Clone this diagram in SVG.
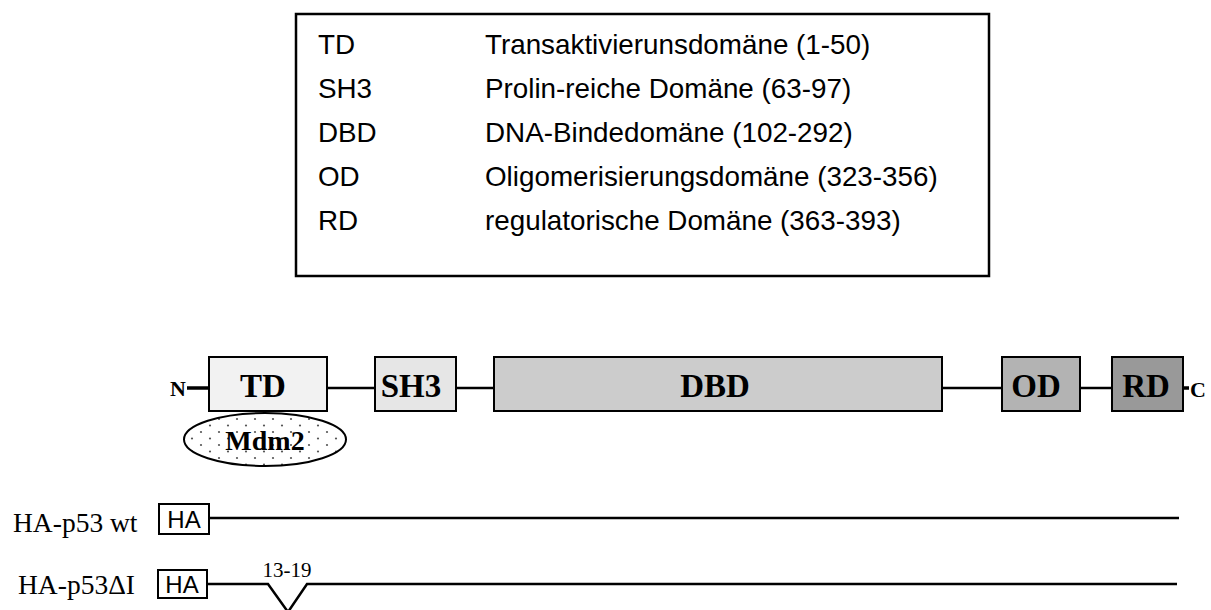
<svg xmlns="http://www.w3.org/2000/svg" width="1211" height="610" viewBox="0 0 1211 610">
<style>
.leg{font-family:"Liberation Sans",Arial,sans-serif;font-size:27.8px;fill:#000}
.dom{font-family:"Liberation Serif","Times New Roman",serif;font-weight:bold;font-size:33px;fill:#000;text-anchor:middle}
.term{font-family:"Liberation Serif","Times New Roman",serif;font-weight:bold;font-size:22px;fill:#000}
.lab{font-family:"Liberation Serif","Times New Roman",serif;font-size:27.5px;fill:#000}
.ha{font-family:"Liberation Sans",Arial,sans-serif;font-size:24px;fill:#000;text-anchor:middle}
.box{stroke:#000;stroke-width:2}
.ln{stroke:#000;stroke-width:2.5;fill:none}
</style>
<defs>
<pattern id="dots" width="18" height="13" patternUnits="userSpaceOnUse">
<rect width="18" height="13" fill="#fff"/>
<circle cx="3" cy="3" r="1.1" fill="#555"/>
<circle cx="12" cy="9.5" r="1.1" fill="#555"/>
</pattern>
</defs>
<rect width="1211" height="610" fill="#fff"/>
<g id="legend">
<rect x="296" y="14" width="693" height="262" fill="#fff" stroke="#000" stroke-width="2.5"/>
<text class="leg" x="318" y="54">TD</text><text class="leg" x="485" y="54">Transaktivierunsdomäne (1-50)</text>
<text class="leg" x="318" y="98">SH3</text><text class="leg" x="485" y="98">Prolin-reiche Domäne (63-97)</text>
<text class="leg" x="318" y="142">DBD</text><text class="leg" x="485" y="142">DNA-Bindedomäne (102-292)</text>
<text class="leg" x="318" y="186">OD</text><text class="leg" x="485" y="186">Oligomerisierungsdomäne (323-356)</text>
<text class="leg" x="318" y="230">RD</text><text class="leg" x="485" y="230">regulatorische Domäne (363-393)</text>
</g>
<g id="connectors">
<line x1="187" y1="388" x2="209" y2="388" stroke="#000" stroke-width="3.5"/>
<line class="ln" x1="327" y1="388" x2="375" y2="388"/>
<line class="ln" x1="456" y1="388" x2="494" y2="388"/>
<line class="ln" x1="942" y1="388" x2="1002" y2="388"/>
<line class="ln" x1="1080" y1="388" x2="1112" y2="388"/>
<line x1="1183" y1="388" x2="1189" y2="388" stroke="#000" stroke-width="3.5"/>
<line class="ln" x1="209" y1="518" x2="1179" y2="518"/>
<polyline class="ln" points="207,584 268,584 288,612 307,584 1177,584"/>
</g>
<g id="N"><text class="term" x="170" y="396">N</text></g>
<g id="C"><text class="term" x="1190" y="397">C</text></g>
<g id="TD"><rect class="box" x="209" y="357" width="118" height="54" fill="#f2f2f2"/><text class="dom" x="263" y="397">TD</text></g>
<g id="SH3"><rect class="box" x="375" y="357" width="81" height="54" fill="#e6e6e6"/><text class="dom" x="411" y="397">SH3</text></g>
<g id="DBD"><rect class="box" x="494" y="357" width="448" height="54" fill="#cccccc"/><text class="dom" x="715" y="397">DBD</text></g>
<g id="OD"><rect class="box" x="1002" y="357" width="78" height="54" fill="#b3b3b3"/><text class="dom" x="1036" y="397">OD</text></g>
<g id="RD"><rect class="box" x="1112" y="357" width="71" height="54" fill="#999999"/><text class="dom" x="1146" y="397">RD</text></g>
<g id="Mdm2"><ellipse cx="265" cy="439.5" rx="81" ry="26.5" fill="url(#dots)" stroke="#000" stroke-width="2"/><text class="dom" x="265" y="450" style="font-size:28px">Mdm2</text></g>
<g id="wt">
<text class="lab" x="13" y="532">HA-p53 wt</text>
<rect class="box" x="159" y="504" width="50" height="30" fill="#fff"/><text class="ha" x="184" y="528">HA</text>
</g>
<g id="dI">
<text class="lab" x="18" y="594">HA-p53ΔI</text>
<rect class="box" x="158" y="570" width="49" height="28" fill="#fff"/><text class="ha" x="182" y="593">HA</text>
<text class="lab" x="287" y="577" style="font-size:21px;text-anchor:middle">13-19</text>
</g>
</svg>
